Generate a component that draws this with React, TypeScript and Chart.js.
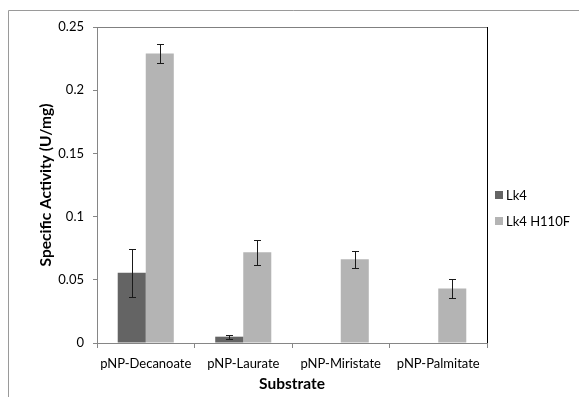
import React, { useEffect, useRef } from "react";
import { Chart, registerables } from "chart.js";

Chart.register(...registerables);

const categories = ["pNP-Decanoate", "pNP-Laurate", "pNP-Miristate", "pNP-Palmitate"];
const seriesNames = ["Lk4", "Lk4 H110F"];
const lk4Values: (number | null)[] = [0.0555, 0.005, null, null];
const lk4Errors: (number | null)[] = [0.019, 0.0015, null, null];
const h110fValues: (number | null)[] = [0.229, 0.0717, 0.0663, 0.0432];
const h110fErrors: (number | null)[] = [0.0075, 0.01, 0.0066, 0.0075];
const yTickValues = [0, 0.05, 0.1, 0.15, 0.2, 0.25];
const yTickLabels = ["0", "0.05", "0.1", "0.15", "0.2", "0.25"];
const yTitle = "Specific Activity (U/mg)";
const xTitle = "Substrate";

const FONT = "Lato, 'Open Sans', sans-serif";
const errorsBySeries = [lk4Errors, h110fErrors];

const errorBarPlugin = {
  id: "errorBars",
  afterDatasetsDraw(chart: any) {
    const ctx = chart.ctx;
    const yScale = chart.scales.y;
    ctx.save();
    ctx.strokeStyle = "#1a1a1a";
    ctx.lineWidth = 1;
    chart.data.datasets.forEach((ds: any, di: number) => {
      const meta = chart.getDatasetMeta(di);
      const errs = errorsBySeries[di];
      meta.data.forEach((bar: any, i: number) => {
        const v = ds.data[i];
        const e = errs[i];
        if (v == null || e == null) return;
        const x = Math.round(bar.x) + 0.5;
        const yTop = Math.round(yScale.getPixelForValue(v + e)) + 0.5;
        const yBot = Math.round(yScale.getPixelForValue(v - e)) + 0.5;
        ctx.beginPath();
        ctx.moveTo(x, yTop);
        ctx.lineTo(x, yBot);
        ctx.moveTo(x - 3.5, yTop);
        ctx.lineTo(x + 3.5, yTop);
        ctx.moveTo(x - 3.5, yBot);
        ctx.lineTo(x + 3.5, yBot);
        ctx.stroke();
      });
    });
    ctx.restore();
  },
};

const framePlugin = {
  id: "frame",
  beforeDraw(chart: any) {
    const ctx = chart.ctx;
    ctx.save();
    ctx.fillStyle = "#ffffff";
    ctx.fillRect(0, 0, chart.width, chart.height);
    ctx.strokeStyle = "#9a9a9a";
    ctx.lineWidth = 1;
    ctx.beginPath();
    ctx.moveTo(8.5, chart.height);
    ctx.lineTo(8.5, 10.5);
    ctx.lineTo(chart.width, 10.5);
    ctx.stroke();
    ctx.restore();
  },
  afterDraw(chart: any) {
    const { ctx, chartArea } = chart;
    ctx.save();
    ctx.lineWidth = 1;
    ctx.strokeStyle = "#808080";
    ctx.beginPath();
    ctx.moveTo(chartArea.left, chartArea.top + 0.5);
    ctx.lineTo(chartArea.right, chartArea.top + 0.5);
    ctx.stroke();
    ctx.strokeStyle = "#000000";
    ctx.beginPath();
    ctx.moveTo(chartArea.right + 0.5, chartArea.top);
    ctx.lineTo(chartArea.right + 0.5, chartArea.bottom);
    ctx.stroke();
    // legend
    ctx.font = `13px ${FONT}`;
    ctx.textBaseline = "middle";
    ctx.textAlign = "left";
    chart.data.datasets.forEach((ds: any, i: number) => {
      const y = 195 + i * 26;
      ctx.fillStyle = ds.backgroundColor;
      ctx.fillRect(495, y - 4, 8, 8);
      ctx.fillStyle = "#000000";
      ctx.fillText(ds.label, 506, y + 0.5);
    });
    ctx.restore();
  },
};

export default function App() {
  const canvasRef = useRef<HTMLCanvasElement | null>(null);

  useEffect(() => {
    const canvas = canvasRef.current;
    if (!canvas) return;
    const chart = new Chart(canvas, {
      type: "bar",
      data: {
        labels: categories,
        datasets: [
          {
            label: seriesNames[0],
            data: lk4Values,
            backgroundColor: "#646464",
            categoryPercentage: 0.575,
            barPercentage: 1,
          },
          {
            label: seriesNames[1],
            data: h110fValues,
            backgroundColor: "#b4b4b4",
            categoryPercentage: 0.575,
            barPercentage: 1,
          },
        ],
      },
      options: {
        animation: false,
        responsive: false,
        devicePixelRatio: 1,
        layout: { padding: { top: 27, right: 92, left: 0, bottom: 0 } },
        plugins: {
          legend: { display: false },
          tooltip: { enabled: false },
        },
        scales: {
          x: {
            grid: {
              display: true,
              drawOnChartArea: false,
              drawTicks: true,
              tickLength: 5,
              color: "#868686",
              offset: true,
            },
            border: { display: true, color: "#868686", width: 1 },
            ticks: {
              color: "#000000",
              font: { family: FONT, size: 13 },
              padding: 8,
              maxRotation: 0,
              autoSkip: false,
            },
            title: {
              display: true,
              text: xTitle,
              color: "#000000",
              font: { family: FONT, size: 15.5, weight: "bold" },
              padding: { top: 0, bottom: 4 },
            },
            afterFit: (s: any) => {
              s.height = 54;
            },
          },
          y: {
            min: 0,
            max: 0.25,
            afterBuildTicks: (s: any) => {
              s.ticks = yTickValues.map((v) => ({ value: v }));
            },
            grid: {
              display: true,
              drawOnChartArea: false,
              drawTicks: true,
              tickLength: 4,
              color: "#868686",
            },
            border: { display: true, color: "#868686", width: 1 },
            ticks: {
              color: "#000000",
              font: { family: FONT, size: 13 },
              padding: 9,
              callback: (_v: any, i: number) => yTickLabels[i],
            },
            title: {
              display: true,
              text: yTitle,
              color: "#000000",
              font: { family: FONT, size: 15.5, weight: "bold" },
              padding: { top: 37, bottom: 0 },
            },
            afterFit: (s: any) => {
              s.width = 97;
            },
          },
        },
      },
      plugins: [errorBarPlugin, framePlugin],
    } as any);
    return () => chart.destroy();
  }, []);

  return (
    <div style={{ position: "fixed", left: 0, top: 0, width: 579, height: 397, background: "#fff" }}>
      <canvas ref={canvasRef} width={579} height={397} style={{ display: "block" }} />
    </div>
  );
}
